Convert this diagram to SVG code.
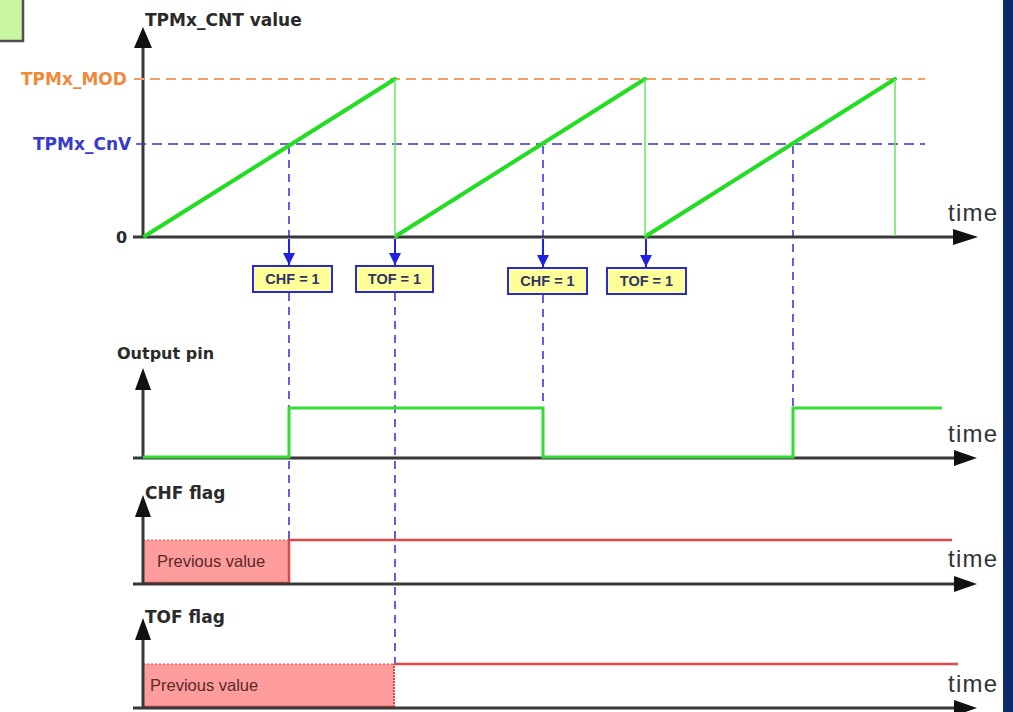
<svg xmlns="http://www.w3.org/2000/svg" width="1013" height="712" viewBox="0 0 1013 712">
<defs>
<style>
.axis{stroke:#383838;stroke-width:3;fill:none}
.head{fill:#111}
.lbl{font-family:"DejaVu Sans",Verdana,sans-serif;font-weight:bold;fill:#2a2a2a}
.time{font-family:"Liberation Sans",Arial,sans-serif;font-size:24px;fill:#333}
.ramp{stroke:#22dd22;stroke-width:4;fill:none;stroke-linecap:round}
.drop{stroke:#6ee86e;stroke-width:1.6;fill:none}
.out{stroke:#33dd33;stroke-width:3;fill:none}
.vd{stroke:#3a3ae0;stroke-width:1.6;stroke-dasharray:8 6;fill:none}
.arr{stroke:#2020e0;stroke-width:2;fill:none}
.box{fill:#ffff99;stroke:#2a2ad0;stroke-width:2}
.btxt{font-family:"Liberation Sans",Arial,sans-serif;font-weight:bold;font-size:14.5px;fill:#333366;text-anchor:middle}
.red{stroke:#e04848;stroke-width:2.5;fill:none}
.pink{fill:#ff9d9d}
.prev{font-family:"Liberation Sans",Arial,sans-serif;font-size:16.5px;fill:#5a2828}
</style>
<marker id="ah" markerUnits="userSpaceOnUse" markerWidth="14" markerHeight="12" refX="12" refY="6" orient="auto">
<path d="M0,0 L12,6 L0,12 Z" fill="#2020e0"/>
</marker>
</defs>
<rect width="1013" height="712" fill="#fff"/>
<rect x="-2" y="-2" width="25" height="43" fill="#c8f6a2" stroke="#505050" stroke-width="2.5"/>
<rect x="1003" y="0" width="10" height="712" fill="#0c2a6a"/>

<g id="connectors">
<line class="vd" x1="289" y1="146" x2="289" y2="236"/>
<line class="arr" x1="289" y1="239" x2="289" y2="265" marker-end="url(#ah)"/>
<line class="vd" x1="289" y1="293" x2="289" y2="540"/>
<line class="arr" x1="395" y1="239" x2="395" y2="265" marker-end="url(#ah)"/>
<line class="vd" x1="395" y1="293" x2="395" y2="664"/>
<line class="vd" x1="543" y1="146" x2="543" y2="236"/>
<line class="arr" x1="543" y1="239" x2="543" y2="267" marker-end="url(#ah)"/>
<line class="vd" x1="543" y1="295" x2="543" y2="457"/>
<line class="arr" x1="646" y1="239" x2="646" y2="267" marker-end="url(#ah)"/>
<line class="vd" x1="793" y1="146" x2="793" y2="457"/>
</g>

<g id="chart-cnt">
<line class="axis" x1="143" y1="237" x2="143" y2="46"/>
<polygon class="head" points="143,27 134,48 152,48"/>
<line class="axis" x1="133" y1="237" x2="956" y2="237"/>
<polygon class="head" points="978,237 953,229 953,245"/>
<text class="lbl" x="145" y="26" font-size="17">TPMx_CNT value</text>
<text class="lbl" x="116" y="243" font-size="16">0</text>
<text class="time" x="948" y="221" textLength="49">time</text>
<line x1="134" y1="79" x2="925" y2="79" stroke="#f5a060" stroke-width="2" stroke-dasharray="10 6"/>
<text class="lbl" x="21" y="85" font-size="17" style="fill:#f08a3a">TPMx_MOD</text>
<line x1="136" y1="144" x2="925" y2="144" stroke="#3535cc" stroke-width="1.6" stroke-dasharray="10 6"/>
<text class="lbl" x="33" y="150" font-size="17" style="fill:#3a3acc">TPMx_CnV</text>
<polyline class="ramp" points="145,236 395,79"/>
<polyline class="ramp" points="396,236 645,79"/>
<polyline class="ramp" points="646,236 895,79"/>
<line class="drop" x1="395" y1="79" x2="395" y2="236"/>
<line class="drop" x1="645" y1="79" x2="645" y2="236"/>
<line class="drop" x1="895" y1="79" x2="895" y2="236"/>
</g>

<g id="chart-output">
<line class="axis" x1="143" y1="458" x2="143" y2="388"/>
<polygon class="head" points="143,368 135,390 151,390"/>
<line class="axis" x1="133" y1="458" x2="956" y2="458"/>
<polygon class="head" points="977,458 954,450 954,466"/>
<text class="lbl" x="117" y="359" font-size="16">Output pin</text>
<text class="time" x="948" y="442" textLength="49">time</text>
<polyline class="out" points="143,457 289,457 289,408 543,408 543,457 793,457 793,408 942,408"/>
</g>

<g id="chart-chf">
<rect class="pink" x="143" y="540" width="146" height="43"/>
<line x1="143" y1="540" x2="289" y2="540" stroke="#e04848" stroke-width="1.2" stroke-dasharray="2 2"/>
<line class="red" x1="143" y1="583" x2="289" y2="583"/>
<polyline class="red" points="289,583 289,540 952,540"/>
<line class="axis" x1="143" y1="584" x2="143" y2="515"/>
<polygon class="head" points="143,495 135,517 151,517"/>
<line class="axis" x1="133" y1="584" x2="956" y2="584"/>
<polygon class="head" points="977,584 954,576 954,592"/>
<text class="lbl" x="145" y="499" font-size="17">CHF flag</text>
<text class="time" x="948" y="567" textLength="49">time</text>
<text class="prev" x="157" y="567">Previous value</text>
</g>

<g id="chart-tof">
<rect class="pink" x="143" y="664" width="251" height="43"/>
<line x1="143" y1="664" x2="394" y2="664" stroke="#e04848" stroke-width="1.2" stroke-dasharray="2 2"/>
<line class="red" x1="143" y1="707" x2="394" y2="707"/>
<line x1="394" y1="707" x2="394" y2="664" stroke="#e04848" stroke-width="2" stroke-dasharray="2 1"/>
<line class="red" x1="394" y1="664" x2="958" y2="664"/>
<line class="axis" x1="143" y1="707" x2="143" y2="638"/>
<polygon class="head" points="143,618 135,640 151,640"/>
<line class="axis" x1="133" y1="708" x2="956" y2="708"/>
<polygon class="head" points="977,708 954,700 954,716"/>
<text class="lbl" x="145" y="623" font-size="17">TOF flag</text>
<text class="time" x="948" y="692" textLength="49">time</text>
<text class="prev" x="150" y="691">Previous value</text>
</g>

<g id="box-chf1"><rect class="box" x="253" y="266" width="79" height="26"/><text class="btxt" x="292.5" y="284">CHF = 1</text></g>
<g id="box-tof1"><rect class="box" x="356" y="266" width="77" height="26"/><text class="btxt" x="394.5" y="284">TOF = 1</text></g>
<g id="box-chf2"><rect class="box" x="508" y="268" width="79" height="26"/><text class="btxt" x="547.5" y="286">CHF = 1</text></g>
<g id="box-tof2"><rect class="box" x="607" y="268" width="79" height="26"/><text class="btxt" x="646.5" y="286">TOF = 1</text></g>
</svg>
